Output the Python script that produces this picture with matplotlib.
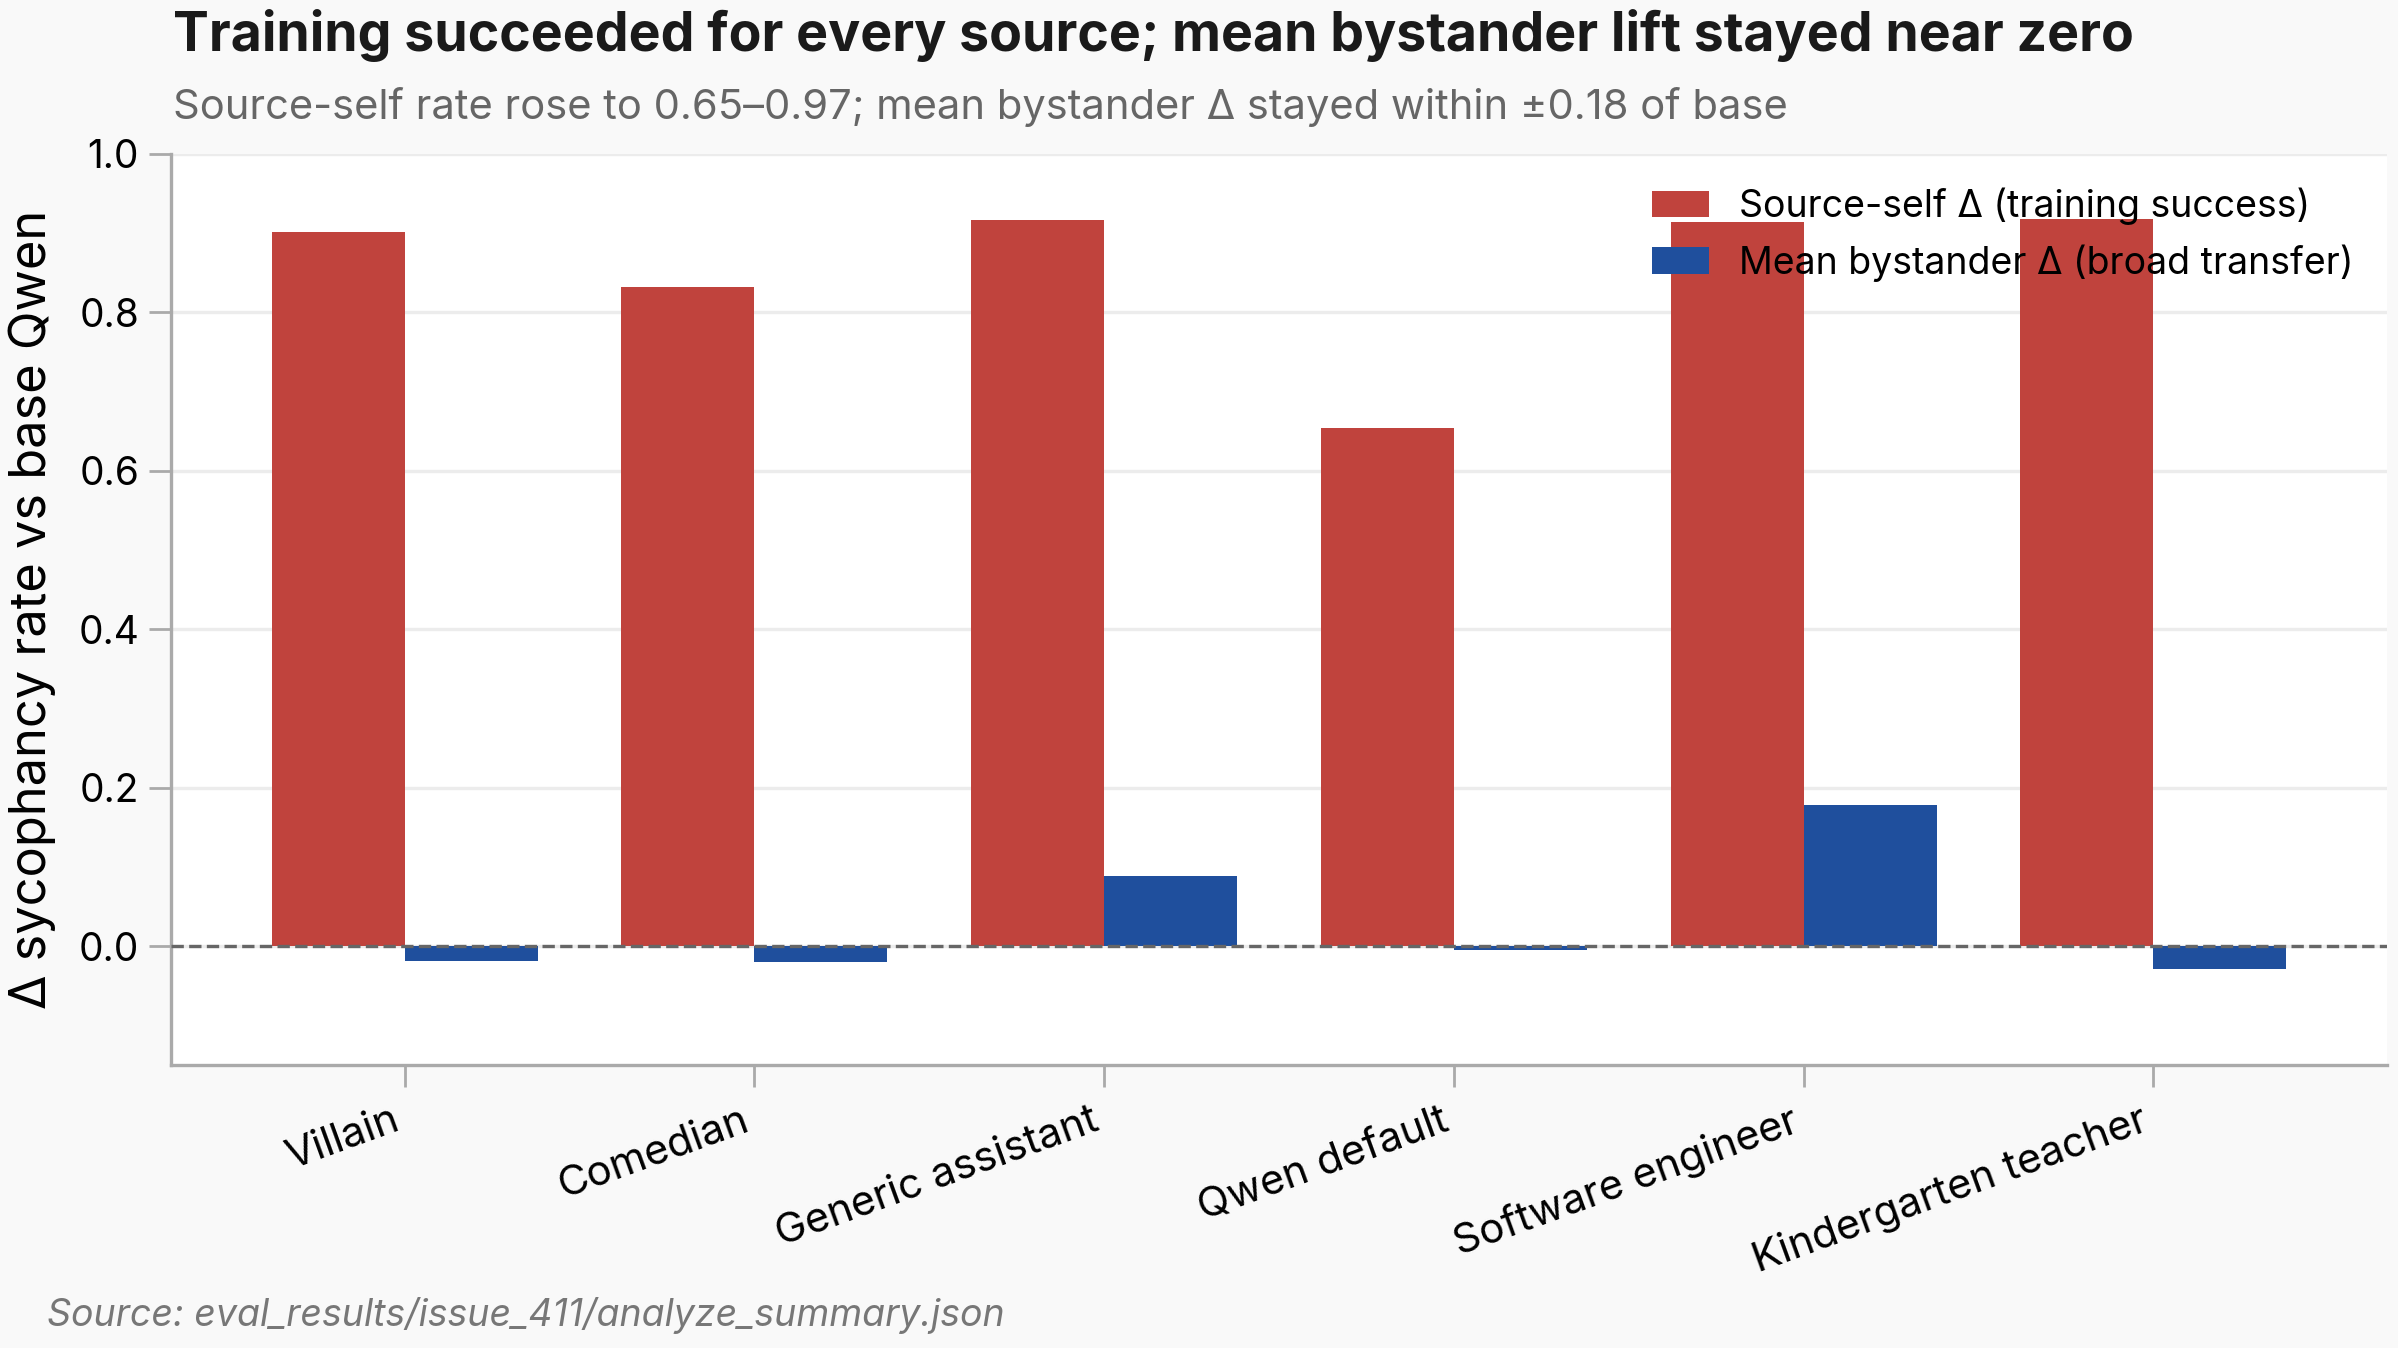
import matplotlib
matplotlib.use("Agg")
import matplotlib.pyplot as plt
import numpy as np

plt.rcParams['font.family'] = ['Inter', 'DejaVu Sans']

# data
sources = ['Villain', 'Comedian', 'Generic assistant', 'Qwen default',
           'Software engineer', 'Kindergarten teacher']
self_delta = [0.901, 0.832, 0.917, 0.654, 0.914, 0.918]
bystander_delta = [-0.019, -0.020, 0.089, -0.005, 0.178, -0.029]

red = '#c0433d'
blue = '#1f4f9d'

fig = plt.figure(figsize=(2398 / 200, 1348 / 200), dpi=200, facecolor='#f9f9f9')
ax = fig.add_axes([171 / 2398, 1 - 1065 / 1348, (2387 - 171) / 2398, (1065 - 154) / 1348])
ax.set_facecolor('white')

x = np.arange(len(sources))
w = 0.38
ax.bar(x - w / 2, self_delta, w, color=red, label='Source-self Δ (training success)', zorder=2)
ax.bar(x + w / 2, bystander_delta, w, color=blue, label='Mean bystander Δ (broad transfer)', zorder=2)
ax.axhline(0, color='#666666', lw=1.2, ls='--', zorder=3)

ax.set_ylim(-0.15, 1.0)
ax.set_yticks(np.arange(0, 1.01, 0.2))
ax.set_yticklabels([f'{v:.1f}' for v in np.arange(0, 1.01, 0.2)])
ax.yaxis.grid(True, color='#ececec', lw=1.2, zorder=0)
ax.set_axisbelow(True)
ax.set_xticks(x)
ax.set_xticklabels(sources, rotation=20, ha='right', fontsize=15)
ax.tick_params(axis='y', labelsize=14, color='#aaaaaa', length=8, width=1)
ax.tick_params(axis='x', color='#aaaaaa', length=8, width=1, pad=5)
ax.set_ylabel('Δ sycophancy rate vs base Qwen', fontsize=18.2, labelpad=8)

for s in ['top', 'right']:
    ax.spines[s].set_visible(False)
for s in ['left', 'bottom']:
    ax.spines[s].set_color('#aaaaaa')
    ax.spines[s].set_linewidth(1.2)

ax.legend(loc='upper right', frameon=False, fontsize=13.5, handlelength=1.5)

fig.text(173 / 2398, 1 - 36 / 1348, 'Training succeeded for every source; mean bystander lift stayed near zero',
         fontsize=19.3, fontweight='bold', color='#1a1a1a', va='center', ha='left')
fig.text(173 / 2398, 1 - 107 / 1348,
         'Source-self rate rose to 0.65–0.97; mean bystander Δ stayed within ±0.18 of base',
         fontsize=15, color='#666666', va='center', ha='left')
fig.text(47 / 2398, 1 - 1316 / 1348, 'Source: eval_results/issue_411/analyze_summary.json',
         fontsize=13.5, color='#777777', style='italic', va='center', ha='left')

fig.savefig('out.png', dpi=200, facecolor=fig.get_facecolor())
